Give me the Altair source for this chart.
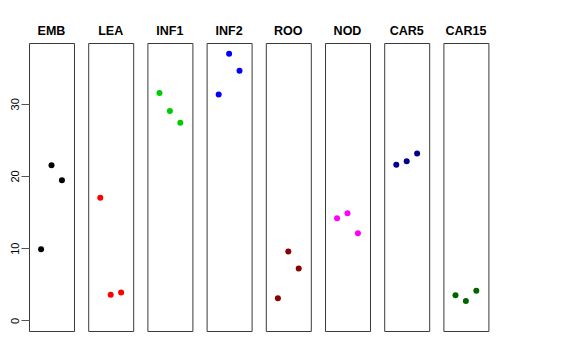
import altair as alt
import pandas as pd

tissues = ["EMB", "LEA", "INF1", "INF2", "ROO", "NOD", "CAR5", "CAR15"]
colors = ["#000000", "#FF0000", "#00CD00", "#0000FF", "#8B0000", "#FF00FF", "#00008B", "#006400"]
emb = [9.85, 21.5, 19.4]
lea = [16.97, 3.56, 3.84]
inf1 = [31.48, 28.99, 27.37]
inf2 = [31.3, 36.94, 34.58]
roo = [3.05, 9.52, 7.17]
nod = [14.15, 14.84, 12.07]
car5 = [21.54, 22.05, 23.12]
car15 = [3.47, 2.68, 4.11]
series = [emb, lea, inf1, inf2, roo, nod, car5, car15]
reps = [1, 2, 3]
y_ticks = [0, 10, 20, 30]

rows = []
for t, vals in zip(tissues, series):
    for r, v in zip(reps, vals):
        rows.append({"tissue": t, "rep": r, "value": v})
df = pd.DataFrame(rows)

ymax = max(max(s) for s in series)
ext = ymax * 0.04
y_dom = [0 - ext, ymax + ext]
x_dom = [0 - 0.16, 4 + 0.16]

panels = []
for i, (t, c) in enumerate(zip(tissues, colors)):
    if i == 0:
        yaxis = alt.Axis(values=y_ticks, title=None, grid=False, domain=False,
                         tickSize=8, tickColor="#555555", labelAngle=270,
                         labelAlign="center", labelBaseline="bottom",
                         labelPadding=1, labelFontSize=11, labelColor="#000000",
                         labelFont="Liberation Sans")
    else:
        yaxis = None
    p = alt.Chart(df).transform_filter(
        alt.datum.tissue == t
    ).mark_circle(size=36, opacity=1, color=c).encode(
        x=alt.X("rep:Q", scale=alt.Scale(domain=x_dom, nice=False, zero=False), axis=None),
        y=alt.Y("value:Q", scale=alt.Scale(domain=y_dom, nice=False, zero=False), axis=yaxis),
    ).properties(
        width=45, height=288,
        title=alt.TitleParams(t, fontSize=12.5, font="Liberation Sans", fontWeight="bold",
                              anchor="middle", color="#000000", offset=5, baseline="bottom",
                              dy=12),
    )
    panels.append(p)

chart = alt.hconcat(*panels, spacing=14.2, bounds="flush").properties(
    padding={"left": 0, "top": 16, "right": 5, "bottom": 5}
).configure(background="white").configure_view(
    stroke="#3a3a3a", strokeWidth=1
)

chart.save("out.html", embed_options={"renderer": "svg", "actions": False})
